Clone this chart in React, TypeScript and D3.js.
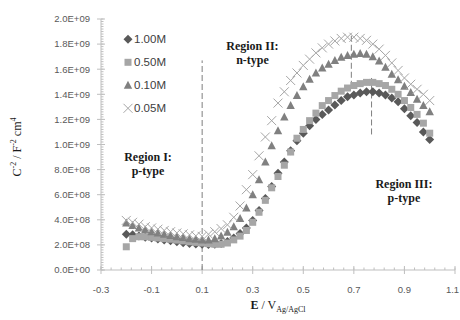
import * as d3 from 'd3';

// Mott-Schottky data
const potentials = [
  -0.2, -0.175, -0.15, -0.125, -0.1, -0.075, -0.05, -0.025, 0, 0.025, 0.05, 0.075,
  0.1, 0.125, 0.15, 0.175, 0.2, 0.225, 0.25, 0.275, 0.3, 0.325, 0.35, 0.375,
  0.4, 0.425, 0.45, 0.475, 0.5, 0.525, 0.55, 0.575, 0.6, 0.625, 0.65, 0.675,
  0.7, 0.725, 0.75, 0.775, 0.8, 0.825, 0.85, 0.875, 0.9, 0.925, 0.95, 0.975, 1.0,
];

const c100 = [
  2.85e8, 2.8e8, 2.7e8, 2.6e8, 2.55e8, 2.48e8, 2.4e8, 2.33e8, 2.25e8, 2.18e8, 2.12e8, 2.08e8,
  2.05e8, 2.03e8, 2.05e8, 2.12e8, 2.28e8, 2.55e8, 2.9e8, 3.35e8, 3.95e8, 4.75e8, 5.7e8, 6.65e8,
  7.7e8, 8.6e8, 9.5e8, 1.03e9, 1.09e9, 1.15e9, 1.2e9, 1.24e9, 1.275e9, 1.315e9, 1.35e9, 1.38e9,
  1.395e9, 1.41e9, 1.42e9, 1.42e9, 1.41e9, 1.395e9, 1.37e9, 1.34e9, 1.285e9, 1.23e9, 1.175e9, 1.1e9, 1.04e9,
];

const c050 = [
  1.85e8, 2.5e8, 2.65e8, 2.65e8, 2.6e8, 2.55e8, 2.5e8, 2.45e8, 2.38e8, 2.32e8, 2.25e8, 2.2e8,
  2.15e8, 2.1e8, 2.05e8, 2.05e8, 2.15e8, 2.4e8, 2.7e8, 3.15e8, 3.8e8, 4.6e8, 5.55e8, 6.55e8,
  7.45e8, 8.35e8, 9.4e8, 1.05e9, 1.12e9, 1.19e9, 1.25e9, 1.31e9, 1.35e9, 1.39e9, 1.425e9, 1.45e9,
  1.47e9, 1.485e9, 1.495e9, 1.495e9, 1.485e9, 1.47e9, 1.44e9, 1.4e9, 1.35e9, 1.295e9, 1.24e9, 1.17e9, 1.09e9,
];

const c010 = [
  3.75e8, 3.55e8, 3.35e8, 3.2e8, 3.05e8, 2.95e8, 2.85e8, 2.75e8, 2.65e8, 2.58e8, 2.5e8, 2.45e8,
  2.4e8, 2.4e8, 2.5e8, 2.7e8, 3.0e8, 3.45e8, 4.1e8, 4.95e8, 6.0e8, 7.2e8, 8.6e8, 9.9e8,
  1.11e9, 1.22e9, 1.31e9, 1.39e9, 1.46e9, 1.52e9, 1.57e9, 1.61e9, 1.64e9, 1.67e9, 1.695e9, 1.71e9,
  1.72e9, 1.725e9, 1.72e9, 1.7e9, 1.665e9, 1.615e9, 1.56e9, 1.515e9, 1.465e9, 1.415e9, 1.36e9, 1.31e9, 1.26e9,
];

const c005 = [
  3.95e8, 3.8e8, 3.65e8, 3.45e8, 3.35e8, 3.25e8, 3.15e8, 3.05e8, 2.95e8, 2.88e8, 2.8e8, 2.72e8,
  2.68e8, 2.85e8, 3.05e8, 3.3e8, 3.6e8, 4.2e8, 5.1e8, 6.4e8, 7.6e8, 9.1e8, 1.06e9, 1.19e9,
  1.33e9, 1.42e9, 1.51e9, 1.57e9, 1.63e9, 1.68e9, 1.73e9, 1.77e9, 1.8e9, 1.825e9, 1.845e9, 1.855e9,
  1.855e9, 1.845e9, 1.83e9, 1.8e9, 1.76e9, 1.71e9, 1.65e9, 1.59e9, 1.53e9, 1.48e9, 1.44e9, 1.4e9, 1.35e9,
];

const seriesNames = ['1.00M', '0.50M', '0.10M', '0.05M'];
const seriesValues = [c100, c050, c010, c005];

const xTicks = [-0.3, -0.1, 0.1, 0.3, 0.5, 0.7, 0.9, 1.1];
const yTicks = [0, 2e8, 4e8, 6e8, 8e8, 1e9, 1.2e9, 1.4e9, 1.6e9, 1.8e9, 2e9];

// dashed guide lines: [potential, from, to]
const guides = [
  [0.1, 0, 1.67e9],
  [0.69, 1.46e9, 1.89e9],
  [0.77, 1.08e9, 1.53e9],
];

// region annotations: [potential, value, line1, line2]
const regions = [
  [-0.114, 0.87e9, 'Region I:', 'p-type'],
  [0.299, 1.75e9, 'Region II:', 'n-type'],
  [0.898, 0.65e9, 'Region III:', 'p-type'],
];

const margin = { top: 19, left: 101 };
const width = 354;
const height = 251;

const styles = [
  { fill: '#595959', stroke: 'none' },
  { fill: '#a6a6a6', stroke: 'none' },
  { fill: '#808080', stroke: 'none' },
  { fill: 'none', stroke: '#a6a6a6' },
];

function Marker({ kind, x, y }: { kind: number; x: number; y: number }) {
  const s = styles[kind];
  if (kind === 0) {
    return <path d={`M${x},${y - 4.5}L${x + 4.5},${y}L${x},${y + 4.5}L${x - 4.5},${y}Z`} fill={s.fill} />;
  }
  if (kind === 1) {
    return <rect x={x - 3.5} y={y - 3.5} width={7} height={7} fill={s.fill} />;
  }
  if (kind === 2) {
    return <path d={`M${x},${y - 4.5}L${x + 4.2},${y + 3.5}L${x - 4.2},${y + 3.5}Z`} fill={s.fill} />;
  }
  return (
    <path
      d={`M${x - 4.5},${y - 4.5}L${x + 4.5},${y + 4.5}M${x - 4.5},${y + 4.5}L${x + 4.5},${y - 4.5}`}
      stroke={s.stroke}
      strokeWidth={1}
      fill="none"
    />
  );
}

export default function App() {
  const x = d3.scaleLinear().domain([-0.3, 1.1]).range([0, width]);
  const y = d3.scaleLinear().domain([0, 2e9]).range([height, 0]);

  const xMinor = d3.range(-0.3, 1.1001, 0.04);
  const yMinor = d3.range(0, 2.0001e9, 2e7);
  const axisColor = '#bfbfbf';
  const fmt = (v: number) => {
    const [m, e] = v.toExponential(1).split('e');
    const exp = Math.abs(+e).toString().padStart(2, '0');
    return `${m}E${+e < 0 ? '-' : '+'}${exp}`;
  };

  return (
    <svg width={460} height={320} style={{ position: 'absolute', left: 0, top: 0, background: '#fff' }}>
      <g transform={`translate(${margin.left},${margin.top})`}>
        {/* y axis */}
        <line x1={0} x2={0} y1={0} y2={height} stroke={axisColor} />
        {yMinor.map((t, i) => (
          <line key={'ym' + i} x1={0} x2={2.5} y1={y(t)} y2={y(t)} stroke={axisColor} />
        ))}
        {yTicks.map((t) => (
          <g key={'y' + t}>
            <line x1={-4} x2={4} y1={y(t)} y2={y(t)} stroke={axisColor} />
            <text
              x={-11}
              y={y(t)}
              dy="0.35em"
              textAnchor="end"
              fontFamily="Liberation Sans, Arial, sans-serif"
              fontSize={9.5}
              fill="#595959"
            >
              {fmt(t)}
            </text>
          </g>
        ))}

        {/* x axis */}
        <line x1={0} x2={width} y1={height} y2={height} stroke={axisColor} />
        {xMinor.map((t, i) => (
          <line key={'xm' + i} x1={x(t)} x2={x(t)} y1={height - 2.5} y2={height} stroke={axisColor} />
        ))}
        {xTicks.map((t) => (
          <g key={'x' + t}>
            <line x1={x(t)} x2={x(t)} y1={height - 4} y2={height + 4} stroke={axisColor} />
            <text
              x={Math.min(x(t), 460 - margin.left - 7.5)}
              y={height + 23}
              textAnchor="middle"
              fontFamily="Liberation Sans, Arial, sans-serif"
              fontSize={9.5}
              fill="#595959"
            >
              {t.toFixed(1)}
            </text>
          </g>
        ))}

        {/* guide lines */}
        {guides.map(([e, v0, v1], i) => (
          <line
            key={'g' + i}
            x1={x(e)}
            x2={x(e)}
            y1={y(v0)}
            y2={y(v1)}
            stroke="#7f7f7f"
            strokeWidth={1}
            strokeDasharray="6,3"
          />
        ))}

        {/* data */}
        {seriesValues.map((vals, k) => (
          <g key={'s' + k}>
            {vals.map((v, i) => (
              <Marker key={i} kind={k} x={x(potentials[i])} y={y(v)} />
            ))}
          </g>
        ))}

        {/* region labels */}
        {regions.map(([e, v, l1, l2], i) => (
          <text
            key={'r' + i}
            x={x(e as number)}
            y={y(v as number)}
            textAnchor="middle"
            fontFamily="Liberation Serif, Times New Roman, serif"
            fontWeight="bold"
            fontSize={12}
            fill="#1a1a1a"
          >
            <tspan x={x(e as number)}>{l1}</tspan>
            <tspan x={x(e as number)} dy={14}>
              {l2}
            </tspan>
          </text>
        ))}

        {/* legend */}
        {seriesNames.map((name, i) => (
          <g key={'l' + name} transform={`translate(${27},${20.3 + i * 23})`}>
            <Marker kind={i} x={0} y={0} />
            <text
              x={6}
              y={0}
              dy="0.36em"
              fontFamily="Liberation Sans, Arial, sans-serif"
              fontSize={11.5}
              fill="#404040"
            >
              {name}
            </text>
          </g>
        ))}
      </g>

      {/* axis titles */}
      <text
        x={278}
        y={309}
        textAnchor="middle"
        fontFamily="Liberation Serif, Times New Roman, serif"
        fontSize={12}
        fill="#1a1a1a"
      >
        <tspan fontWeight="bold">E</tspan>
        <tspan> / V</tspan>
        <tspan fontSize={8} dy={3}>
          Ag/AgCl
        </tspan>
      </text>
      <text
        transform="translate(21,147) rotate(-90)"
        textAnchor="middle"
        fontFamily="Liberation Serif, Times New Roman, serif"
        fontSize={12}
        fill="#1a1a1a"
      >
        <tspan>C</tspan>
        <tspan fontSize={8} dy={-5}>
          -2
        </tspan>
        <tspan dy={5}> / F</tspan>
        <tspan fontSize={8} dy={-5}>
          -2
        </tspan>
        <tspan dy={5}> cm</tspan>
        <tspan fontSize={8} dy={-5}>
          4
        </tspan>
      </text>
    </svg>
  );
}
